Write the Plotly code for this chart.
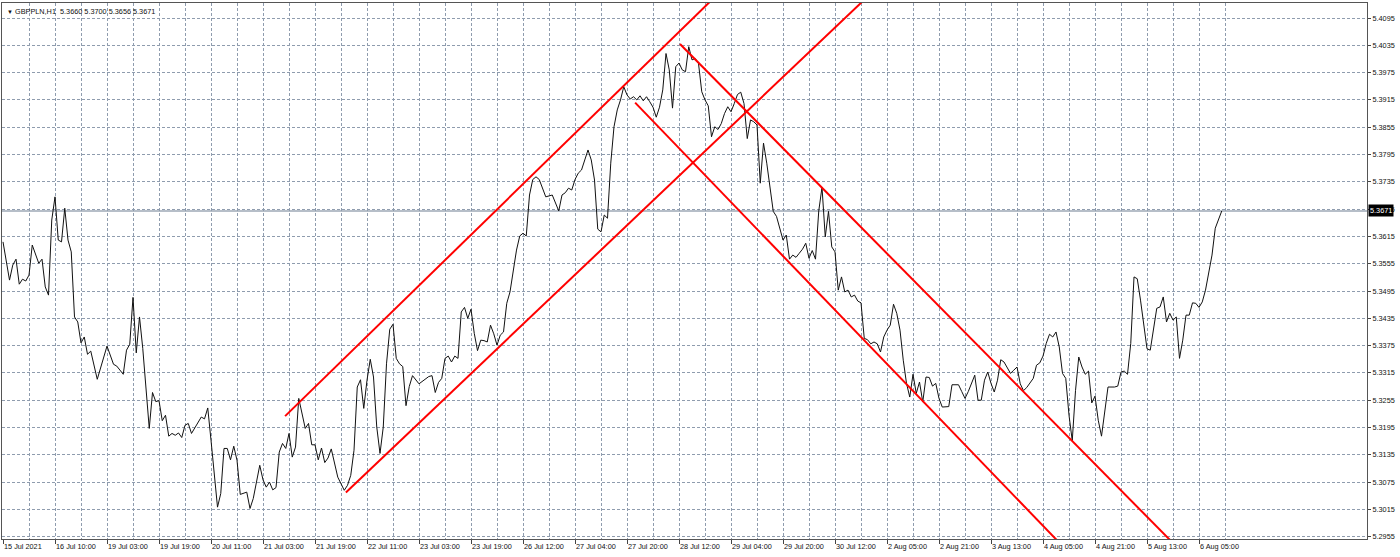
import plotly.graph_objects as go

# ---------------- data ----------------
bars = [0, 2, 3, 4, 5, 6, 7, 8, 9, 11, 12, 13, 14, 15, 16, 17, 18, 19, 20, 21, 22, 23, 24, 25, 26, 27, 29,
        32, 34, 35, 37, 38, 39, 40, 41, 42, 43, 45, 46, 47, 48, 49, 50, 51, 52, 53, 54, 55, 56, 57, 58,
        60, 61, 62, 63, 64, 66, 67, 68, 69, 70, 71, 72, 73, 75, 76, 77, 79, 80, 81, 82, 83, 84, 85, 86,
        87, 88, 89, 90, 91, 92, 93, 94, 95, 96, 97, 98, 99, 100, 101, 102, 103, 105, 106, 107, 108, 109,
        110, 111, 112, 113, 114, 115, 116, 117, 118, 119, 120, 121, 122, 123, 124, 125, 126, 128, 131,
        132, 133, 134, 135, 136, 137, 138, 139, 140, 141, 142, 143, 144, 145, 146, 147, 148, 149, 150,
        151, 152, 153, 154, 155, 156, 157, 158, 159, 160, 161, 162, 163, 164, 165, 166, 167, 169, 170,
        171, 172, 173, 174, 175, 176, 177, 178, 180, 181, 182, 183, 184, 185, 186, 187, 188, 189, 190,
        191, 192, 193, 194, 195, 196, 197, 198, 199, 200, 201, 202, 203, 204, 205, 206, 207, 208, 209,
        210, 211, 212, 213, 214, 215, 216, 217, 218, 219, 220, 221, 222, 223, 224, 225, 226, 227, 228,
        229, 230, 231, 232, 233, 234, 235, 236, 237, 238, 240, 241, 242, 243, 244, 245, 246, 247, 248,
        249, 250, 251, 252, 253, 254, 255, 256, 257, 258, 259, 260, 261, 262, 263, 264, 265, 266, 267,
        268, 269, 270, 271, 272, 273, 274, 275, 276, 277, 278, 279, 280, 281, 282, 283, 284, 285, 286,
        287, 288, 289, 291, 292, 294, 295, 296, 297, 299, 300, 301, 302, 303, 304, 305, 306, 307, 308,
        310, 311, 312, 313, 314, 315, 317, 318, 319, 320, 321, 322, 323, 324, 325, 326, 327, 328, 329,
        330, 331, 332, 333, 334, 335, 336, 337, 338, 339, 340, 342, 343, 344, 345, 346, 347, 348, 349,
        350, 351, 352, 353, 354, 355, 356, 357, 358, 359, 360, 361, 362, 363, 364, 365, 366, 367, 368,
        369, 370, 371, 372, 373, 374, 375]

closes = [5.3603, 5.3519, 5.3552, 5.3565, 5.3510, 5.3521, 5.3517, 5.3530, 5.3596, 5.3556, 5.3565,
          5.3504, 5.3486, 5.3651, 5.3702, 5.3607, 5.3603, 5.3677, 5.3607, 5.3581, 5.3438, 5.3427,
          5.3381, 5.3394, 5.3356, 5.3363, 5.3301,
          5.3374, 5.3334, 5.3330, 5.3312, 5.3365, 5.3378, 5.3481, 5.3359, 5.3438, 5.3369, 5.3193,
          5.3272, 5.3252, 5.3254, 5.3210, 5.3222, 5.3176, 5.3182, 5.3178, 5.3183, 5.3173, 5.3200,
          5.3204, 5.3182,
          5.3207, 5.3218, 5.3214, 5.3238, 5.3167, 5.3020, 5.3050, 5.3149, 5.3149, 5.3124, 5.3154,
          5.3123, 5.3048, 5.3053, 5.3017, 5.3039, 5.3112, 5.3080, 5.3064, 5.3075, 5.3058, 5.3063,
          5.3141, 5.3160,
          5.3149, 5.3182, 5.3130, 5.3152, 5.3259, 5.3226, 5.3193, 5.3204, 5.3157, 5.3157, 5.3124,
          5.3150, 5.3118, 5.3128, 5.3148, 5.3117, 5.3086, 5.3057, 5.3068, 5.3090, 5.3145, 5.3284,
          5.3300, 5.3237, 5.3299, 5.3345, 5.3306, 5.3196, 5.3138, 5.3196, 5.3335, 5.3411, 5.3422,
          5.3347, 5.3335, 5.3329, 5.3243, 5.3285, 5.3309, 5.3291, 5.3307,
          5.3309, 5.3272, 5.3294, 5.3303, 5.3347, 5.3352, 5.3339, 5.3352, 5.3347, 5.3449, 5.3459,
          5.3435, 5.3455, 5.3402, 5.3364, 5.3387, 5.3386, 5.3383, 5.3420,
          5.3401, 5.3376, 5.3398, 5.3405, 5.3468, 5.3493, 5.3545, 5.3585, 5.3616, 5.3622, 5.3616,
          5.3706, 5.3740, 5.3746, 5.3740, 5.3721, 5.3702, 5.3706, 5.3689,
          5.3671, 5.3706, 5.3711, 5.3721, 5.3717, 5.3740, 5.3754, 5.3761, 5.3805, 5.3783, 5.3739,
          5.3631, 5.3625, 5.3662, 5.3655, 5.3776, 5.3856, 5.3893, 5.3915,
          5.3944, 5.3926, 5.3917, 5.3922, 5.3915, 5.3924, 5.3913, 5.3922, 5.3911, 5.3899, 5.3877,
          5.3899, 5.3937, 5.4017, 5.3981, 5.3897, 5.3988, 5.3996, 5.3981,
          5.3977, 5.4032, 5.4003, 5.4006, 5.3995, 5.3933, 5.3915, 5.3902, 5.3834, 5.3856, 5.3850,
          5.3863, 5.3885, 5.3900, 5.3889, 5.3907, 5.3927, 5.3932, 5.3907,
          5.3830, 5.3871, 5.3867, 5.3860, 5.3732, 5.3820, 5.3776, 5.3725, 5.3670, 5.3659, 5.3607,
          5.3618, 5.3565, 5.3574, 5.3569, 5.3578, 5.3587, 5.3600, 5.3567,
          5.3584, 5.3565, 5.3671, 5.3723, 5.3614, 5.3670, 5.3592, 5.3581, 5.3497, 5.3526, 5.3493,
          5.3497, 5.3482, 5.3486, 5.3473, 5.3469, 5.3391, 5.3388, 5.3379,
          5.3383, 5.3379, 5.3361, 5.3394, 5.3409, 5.3420, 5.3466, 5.3446, 5.3409, 5.3343, 5.3292,
          5.3262, 5.3312, 5.3270, 5.3295, 5.3251, 5.3306, 5.3305, 5.3286,
          5.3292, 5.3259, 5.3240, 5.3241, 5.3289, 5.3289, 5.3274, 5.3259, 5.3274, 5.3310, 5.3255,
          5.3255, 5.3299, 5.3317, 5.3292, 5.3273, 5.3299, 5.3344, 5.3339,
          5.3314, 5.3321, 5.3328, 5.3291, 5.3276, 5.3283, 5.3303, 5.3332, 5.3337, 5.3352, 5.3380,
          5.3400, 5.3394, 5.3405, 5.3372, 5.3314, 5.3303, 5.3222, 5.3166,
          5.3276, 5.3350, 5.3328, 5.3312, 5.3319, 5.3249, 5.3264, 5.3211, 5.3176, 5.3226, 5.3284,
          5.3284, 5.3286, 5.3317, 5.3319, 5.3312, 5.3380, 5.3526, 5.3522,
          5.3475, 5.3416, 5.3368, 5.3365, 5.3416, 5.3457, 5.3460, 5.3482, 5.3427, 5.3446, 5.3431,
          5.3438, 5.3347, 5.3387, 5.3442, 5.3442, 5.3469, 5.3468, 5.3459,
          5.3471, 5.3497, 5.3534, 5.3574, 5.3633, 5.3653, 5.3671]

tick_labels = ["15 Jul 2021", "16 Jul 10:00", "19 Jul 03:00", "19 Jul 19:00", "20 Jul 11:00",
               "21 Jul 03:00", "21 Jul 19:00", "22 Jul 11:00", "23 Jul 03:00", "23 Jul 19:00",
               "26 Jul 12:00", "27 Jul 04:00", "27 Jul 20:00", "28 Jul 12:00", "29 Jul 04:00",
               "29 Jul 20:00", "30 Jul 12:00", "2 Aug 05:00", "2 Aug 21:00", "3 Aug 13:00",
               "4 Aug 05:00", "4 Aug 21:00", "5 Aug 13:00", "6 Aug 05:00"]
bars_per_label = 16

price_ticks = [5.2955, 5.3015, 5.3075, 5.3135, 5.3195, 5.3255, 5.3315, 5.3375, 5.3435, 5.3495,
               5.3555, 5.3615, 5.3675, 5.3735, 5.3795, 5.3855, 5.3915, 5.3975, 5.4035, 5.4095]

# trendlines: (start bar, start price) -> (end bar, end price)
trend_start_bar = [86.8, 105.5, 208.3, 194.5]
trend_start_price = [5.3220, 5.3052, 5.4038, 5.3909]
trend_end_bar = [221.0, 270.0, 365.0, 330.0]
trend_end_price = [5.4155, 5.4169, 5.2905, 5.2905]

symbol = "GBPPLN,H1"
ohlc = ["5.3660", "5.3700", "5.3656", "5.3671"]
last_price = closes[-1]

# ---------------- figure ----------------
FONT = "Liberation Sans, Arial, sans-serif"
GRID = "#8f9cae"

label_bars = [i * bars_per_label for i in range(len(tick_labels))]
minor_bars = [b + bars_per_label // 2 for b in label_bars]

fig = go.Figure()

fig.add_trace(go.Scatter(x=bars, y=closes, mode="lines",
                         line=dict(color="#111111", width=1), hoverinfo="skip", showlegend=False))

for xs, ys, xe, ye in zip(trend_start_bar, trend_start_price, trend_end_bar, trend_end_price):
    fig.add_trace(go.Scatter(x=[xs, xe], y=[ys, ye], mode="lines",
                             line=dict(color="#ff0000", width=2), hoverinfo="skip", showlegend=False))

fig.add_hline(y=last_price, line=dict(color="#9ea8b6", width=1.6), layer="below")

fig.add_annotation(x=1, xref="paper", y=last_price, yref="y", xanchor="left", yanchor="middle",
                   xshift=1, text=f"{last_price:.4f}", showarrow=False,
                   font=dict(family=FONT, size=7.3, color="white"), bgcolor="black", borderpad=1)

fig.add_annotation(x=0, xref="paper", y=1, yref="paper", xanchor="left", yanchor="top",
                   xshift=3, yshift=-2, showarrow=False,
                   text="<span style='font-size:6px'>▼</span> " + symbol + "  " + " ".join(ohlc),
                   font=dict(family=FONT, size=7.3, color="#111111"))

x0 = -1 / 3.25
fig.update_xaxes(range=[x0, x0 + 420], tickmode="array", tickvals=label_bars, ticktext=tick_labels,
                 ticks="outside", ticklen=4, tickcolor="#444", ticklabelposition="outside right",
                 tickfont=dict(family=FONT, size=7.3, color="#111111"),
                 showgrid=True, gridcolor=GRID, griddash="3px,2px", gridwidth=1,
                 minor=dict(tickmode="array", tickvals=minor_bars, showgrid=True, gridcolor=GRID,
                            griddash="3px,2px", gridwidth=1, ticks=""),
                 showline=True, linecolor="#555555", linewidth=1, mirror=True, zeroline=False)

fig.update_yaxes(range=[5.2950, 5.4128], side="right", tickmode="array", tickvals=price_ticks,
                 ticktext=[f"{v:.4f}" for v in price_ticks], ticks="outside", ticklen=3, tickcolor="#444",
                 tickfont=dict(family=FONT, size=7.3, color="#111111"),
                 showgrid=True, gridcolor=GRID, griddash="3px,2px", gridwidth=1,
                 showline=True, linecolor="#555555", linewidth=1, mirror=True, zeroline=False)

fig.update_layout(width=1400, height=557, autosize=False,
                  margin=dict(l=2, r=33, t=3, b=18),
                  paper_bgcolor="white", plot_bgcolor="white", showlegend=False)

fig.write_html("out.html", config={"displayModeBar": False},
               post_script="document.body.style.margin='0';document.body.style.overflow='hidden';")
